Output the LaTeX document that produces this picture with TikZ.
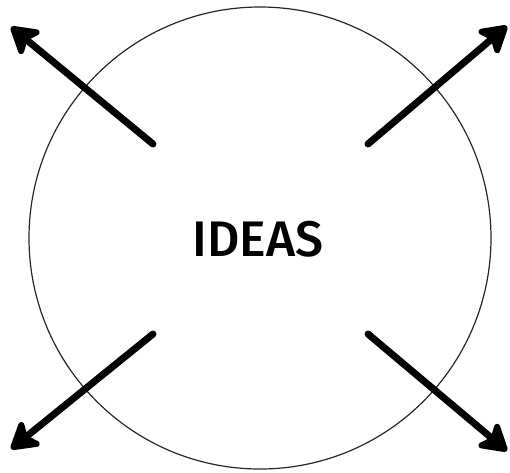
\documentclass[tikz,border=0pt]{standalone}
\usepackage{fontspec}
\setmainfont{PT Sans}
\newfontfamily\ideafont{Fira Sans Medium}
\usetikzlibrary{arrows.meta}
\begin{document}
\begin{tikzpicture}[x=1pt,y=-1pt,
  ring/.style={draw=black!85, line width=1.2pt},
  outarrow/.style={line width=7pt, line cap=round, -{Stealth[length=32pt,width=38pt,inset=8pt,round]}},
  label/.style={font=\ideafont\fontsize{50}{60}\selectfont, inner sep=0pt}]
\useasboundingbox (0,0) rectangle (510,472);
\node[ring, circle, minimum size=462pt, inner sep=0pt] (c) at (260,238) {};
\node[label] (t) at (258,239) {IDEAS};
\coordinate (s1) at (153,144);
\coordinate (e1) at (11,27);
\coordinate (s2) at (368,144);
\coordinate (e2) at (507,26);
\coordinate (s3) at (153,334);
\coordinate (e3) at (11,449);
\coordinate (s4) at (368,334);
\coordinate (e4) at (507,451);
\draw[outarrow] (s1) -- (e1);
\draw[outarrow] (s2) -- (e2);
\draw[outarrow] (s3) -- (e3);
\draw[outarrow] (s4) -- (e4);
\end{tikzpicture}
\end{document}
